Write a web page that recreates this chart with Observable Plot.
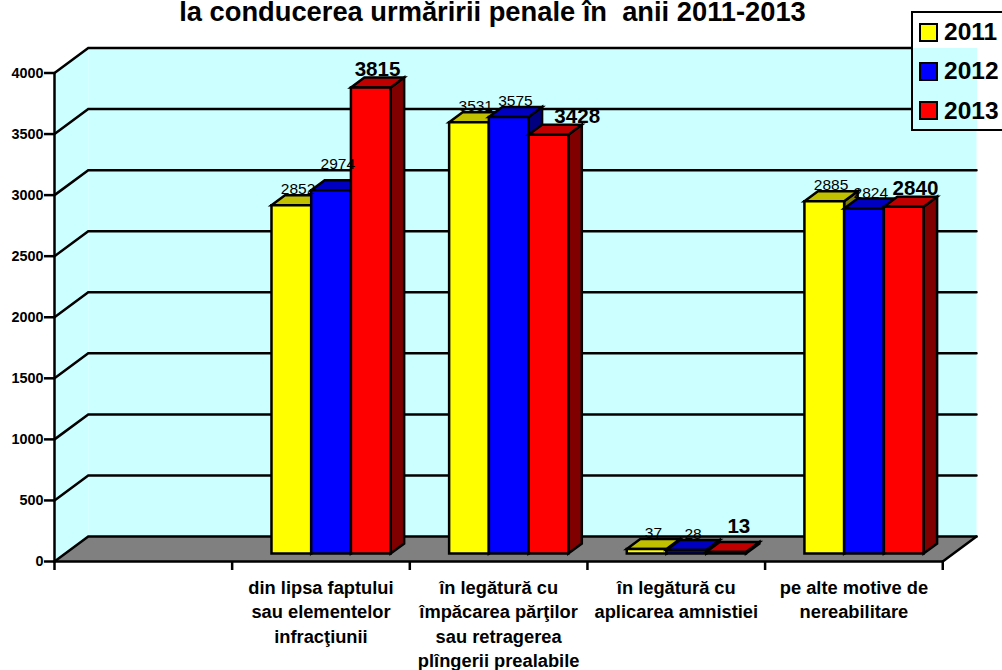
<!DOCTYPE html>
<html>
<head>
<meta charset="utf-8">
<script src="https://cdn.jsdelivr.net/npm/d3@7"></script>
<script src="https://cdn.jsdelivr.net/npm/@observablehq/plot@0.6"></script>
<style>
html,body{margin:0;padding:0;background:#fff;overflow:hidden;}
#wrap{position:relative;width:1002px;height:670px;overflow:hidden;font-family:"Liberation Sans",Arial,sans-serif;}
#legend{position:absolute;left:911px;top:11px;width:95px;height:116px;border:2.5px solid #000;
  background:linear-gradient(to bottom,#fff 0,#fff 35px,#ccffff 35px,#ccffff 100%);background-size:64px 100%;background-repeat:no-repeat;background-color:#fff;}
.li{position:absolute;left:6px;height:28px;display:flex;align-items:center;font-weight:bold;font-size:24.5px;color:#000;}
.sw{width:15px;height:15px;border:2px solid #000;margin-right:6px;box-sizing:content-box;}
</style>
</head>
<body>
<div id="wrap"></div>
<script>
const titleText = "la conducerea urmăririi penale în  anii 2011-2013";
const categories = ["", "din lipsa faptului\nsau elementelor\ninfracţiunii", "în legătură cu\nîmpăcarea părţilor\nsau retragerea\nplîngerii prealabile", "în legătură cu\naplicarea amnistiei", "pe alte motive de\nnereabilitare"];
const years = ["2011", "2012", "2013"];
const values2011 = [2852, 3531, 37, 2885];
const values2012 = [2974, 3575, 28, 2824];
const values2013 = [3815, 3428, 13, 2840];
const series = [values2011, values2012, values2013];
const yTicks = [0, 500, 1000, 1500, 2000, 2500, 3000, 3500, 4000];

// colours: front, top, side
const palette = [["#ffff00", "#c0c000", "#808000"], ["#0000ff", "#0000c0", "#000080"], ["#ff0000", "#c00000", "#800000"]];
const wallColor = "#ccffff", floorColor = "#808080";

// oblique projection of (category, value, depth) into the x / y scale domains
const nCat = categories.length;
const DX = 0.19, DY = 204.7;
const proj = (c, v, z) => ({x: c + z * DX, y: v + z * DY});
const poly = (id, fill, pts) => pts.map(([c, v, z]) => ({id, fill, ...proj(c, v, z)}));

const barW = 0.2236, barStart = (1 - 3 * barW) / 2 - 0.004, z0 = 0.32, z1 = 0.72;
const faces = [];
// hand-moved labels in the original: [year index, category index, dx px, dy px]
const moved = [[1, 0, 0, -10], [2, 1, 22, 0], [2, 3, 5, 0], [2, 2, 6, -7]];
series.forEach((vals, j) => vals.forEach((v, k) => {
  const c = k + 1, a = c + barStart + j * barW, b = a + barW, id = `${j}-${k}`;
  const [front, top, side] = palette[j];
  faces.push({j, k, v, a, b, id, front, top, side});
}));
const barFaces = d3.sort(faces, d => d.k, d => d.j).flatMap(({a, b, v, id, front, top, side}) => [
  ...poly(id + "s", side, [[b, 0, z0], [b, 0, z1], [b, v, z1], [b, v, z0]]),
  ...poly(id + "t", top, [[a, v, z0], [a, v, z1], [b, v, z1], [b, v, z0]]),
  ...poly(id + "f", front, [[a, 0, z0], [a, v, z0], [b, v, z0], [b, 0, z0]])
]);
const pxX = 1 / 177.6, pxY = 1 / 0.1221;
const labelData = faces.map(({j, k, v, a}) => {
  const m = moved.find(d => d[0] === j && d[1] === k) || [0, 0, 0, 0];
  const p = proj(a + barW / 2, v, z1);
  return {text: String(v), j, x: proj(a + barW / 2, v, (z0 + z1) / 2).x + m[2] * pxX, y: p.y - m[3] * pxY};
});

const back = [
  ...poly("left", wallColor, [[0, 0, 0], [0, 0, 1], [0, 4000, 1], [0, 4000, 0]]),
  ...poly("back", wallColor, [[0, 0, 1], [0, 4000, 1], [nCat, 4000, 1], [nCat, 0, 1]])
];
const floor = poly("floor", floorColor, [[0, 0, 0], [0, 0, 1], [nCat, 0, 1], [nCat, 0, 0]]);
const grid = yTicks.flatMap(v => poly("g" + v, "none", [[0, v, 0], [0, v, 1], [nCat, v, 1]]));
const axes = [...poly("ay", "none", [[0, 0, 0], [0, 4000, 0]]), ...poly("ax", "none", [[0, 0, 0], [nCat, 0, 0]])];

const faceLine = (data, extra = {}) => Plot.line(data, {
  x: "x", y: "y", z: "id", fill: {value: "fill", scale: null}, curve: "linear-closed",
  strokeLinejoin: "miter", strokeMiterlimit: 4, ...extra
});
const openLine = (data, w = 2.5) => Plot.line(data, {
  x: "x", y: "y", z: "id", stroke: "#000", strokeWidth: w, strokeLinejoin: "miter", strokeMiterlimit: 4
});

const chart = Plot.plot({
  width: 1002, height: 670,
  marginLeft: 54, marginRight: 26, marginTop: 47.5, marginBottom: 109,
  style: {fontFamily: "'Liberation Sans', Arial, sans-serif", background: "transparent", color: "#000"},
  x: {domain: [0, nCat + DX]},
  y: {domain: [0, 4000 + DY]},
  marks: [
    faceLine(back, {stroke: "none"}),
    faceLine(floor, {stroke: "none"}),
    openLine(grid),
    openLine(poly("fe", "none", [[nCat, 0, 0], [nCat, 0, 1]])),
    openLine(axes),
    faceLine(barFaces, {stroke: "#000", strokeWidth: 2.5}),
    Plot.axisY({ticks: yTicks, tickSize: 10, tickPadding: 1, label: null, fontSize: 14.4, fontWeight: "bold", strokeWidth: 2.5, anchor: "left",
      tickFormat: d => String(d)}),
    Plot.axisX({ticks: d3.range(0, nCat + 1), tickSize: 9, tickFormat: () => "", label: null, strokeWidth: 2.5, anchor: "bottom"}),
    Plot.text(categories, {
      x: (d, i) => i + 0.5, y: () => 0, text: d => d, lineAnchor: "top", textAnchor: "middle",
      dy: 14.6, fontSize: 18.3, fontWeight: "bold", lineHeight: 1.34, fill: "#000"
    }),
    Plot.text(labelData.filter(d => d.j < 2), {x: "x", y: "y", text: "text", lineAnchor: "bottom", textAnchor: "middle", fontSize: 15.5, fill: "#000", dy: -1}),
    Plot.text(labelData.filter(d => d.j === 2), {x: "x", y: "y", text: "text", lineAnchor: "bottom", textAnchor: "middle", fontSize: 20.6, fontWeight: "bold", fill: "#000", dy: -1.5}),
    Plot.text([titleText], {frameAnchor: "top", text: d => d, dx: -23, dy: -35.5, lineAnchor: "middle", fontSize: 27.3, fontWeight: "bold", fill: "#000"})
  ]
});
const wrap = document.getElementById("wrap");
wrap.appendChild(chart);

const legend = document.createElement("div");
legend.id = "legend";
years.forEach((y, i) => {
  const row = document.createElement("div");
  row.className = "li";
  row.style.top = (5 + i * 39.3) + "px";
  const sw = document.createElement("span");
  sw.className = "sw";
  sw.style.background = palette[i][0];
  row.appendChild(sw);
  row.appendChild(document.createTextNode(y));
  legend.appendChild(row);
});
wrap.appendChild(legend);
</script>
</body>
</html>
